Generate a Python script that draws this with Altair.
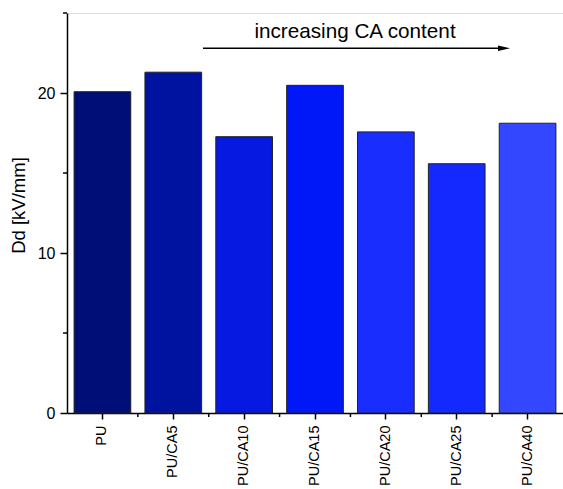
import altair as alt
import pandas as pd

categories = ["PU", "PU/CA5", "PU/CA10", "PU/CA15", "PU/CA20", "PU/CA25", "PU/CA40"]
values = [20.08, 21.3, 17.27, 20.48, 17.57, 15.58, 18.11]
colors = ["#000E78", "#0012A0", "#0519E0", "#0018F8", "#1A2DFF", "#1429FF", "#3347FF"]
y_major = [0, 10, 20]
y_minor = [5, 15, 25]
annotation_text = ["increasing CA content"]
arrow_value = [22.8]
text_value = [23.45]

FONT = "Liberation Sans"

df = pd.DataFrame({"cat": categories, "val": values, "color": colors})
minor_x = pd.DataFrame({"cat": categories[1:]})
minor_y = pd.DataFrame({"v": y_minor})
arrow_df = pd.DataFrame({"v": arrow_value})
text_df = pd.DataFrame({"v": text_value, "t": annotation_text})

xscale = alt.Scale(domain=categories, paddingInner=0, paddingOuter=0)
yscale = alt.Scale(domain=[0, 25], nice=False, zero=True)

bars = alt.Chart(df).mark_bar(
    width=alt.RelativeBandSize(0.8), stroke="#222222", strokeWidth=1
).encode(
    x=alt.X("cat:N", sort=categories, scale=xscale,
            axis=alt.Axis(title=None, labelAngle=-90, labelFontSize=14.5, labelFont=FONT,
                          labelColor="black", tickSize=6, tickWidth=1.5, tickColor="black",
                          domainColor="black", domainWidth=1.5, labelPadding=6)),
    y=alt.Y("val:Q", scale=yscale,
            axis=alt.Axis(values=y_major, title="Dd [kV/mm]", titleFontSize=18.5,
                          titleFont=FONT, titleFontWeight="normal", titleColor="black",
                          titleX=-49, titleY=192, titleBaseline="middle", titleAlign="center",
                          labelFontSize=16, labelFont=FONT, labelColor="black",
                          tickSize=7, tickWidth=1.5, tickColor="black",
                          domainColor="black", domainWidth=1.5, labelPadding=5, grid=False)),
    color=alt.Color("color:N", scale=None),
)

xminor = alt.Chart(minor_x).mark_rule(color="black", strokeWidth=1.5).encode(
    x=alt.X("cat:N", sort=categories, scale=xscale, bandPosition=0),
    y=alt.value(400), y2=alt.value(404),
)

yminor = alt.Chart(minor_y).mark_rule(color="black", strokeWidth=1.5).encode(
    y=alt.Y("v:Q", scale=yscale),
    x=alt.value(-4), x2=alt.value(0),
)

arrow_line = alt.Chart(arrow_df).mark_rule(color="black", strokeWidth=1.6).encode(
    y=alt.Y("v:Q", scale=yscale),
    x=alt.value(136), x2=alt.value(433),
)

arrow_head = alt.Chart(arrow_df).mark_point(
    shape="M-1,-0.45L1,0L-1,0.45Z", filled=True, color="black", opacity=1, size=144
).encode(
    y=alt.Y("v:Q", scale=yscale),
    x=alt.value(437),
)

label = alt.Chart(text_df).mark_text(
    font=FONT, fontSize=20.7, color="black", align="center", baseline="alphabetic"
).encode(
    y=alt.Y("v:Q", scale=yscale),
    x=alt.value(288),
    text="t:N",
)

chart = alt.layer(bars, xminor, yminor, arrow_line, arrow_head, label).properties(
    width=496, height=400,
    autosize=alt.AutoSizeParams(type="none"),
    padding={"left": 67, "top": 13, "right": 0, "bottom": 76},
).configure_view(stroke=None).configure(background="white")

chart.save("out.html", embed_options={"renderer": "svg", "actions": False})
